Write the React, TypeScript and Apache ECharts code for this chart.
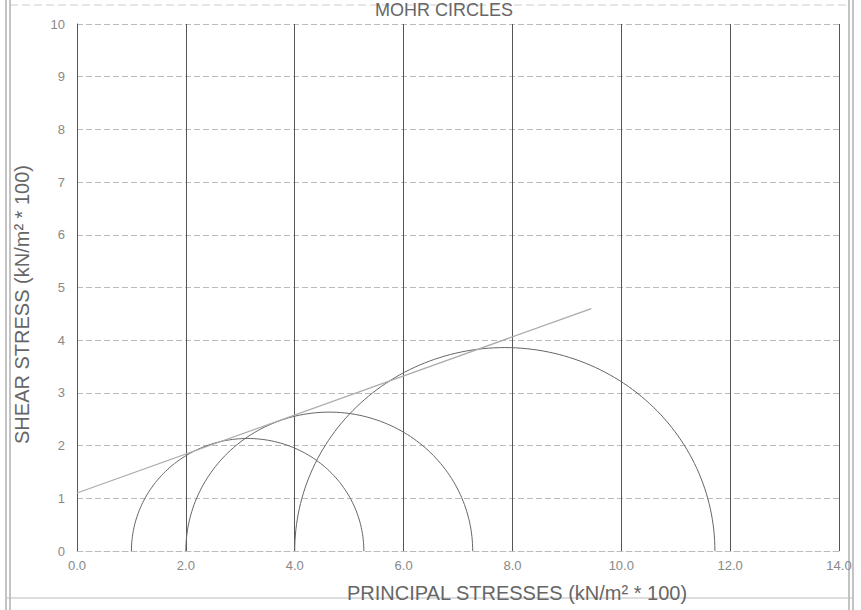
import React, { useEffect, useRef } from "react";
import * as echarts from "echarts";

// Mohr circles: minor (sigma3) and major (sigma1) principal stresses, kN/m² * 100
const sigma3 = [1.0, 2.0, 4.0];
const sigma1 = [5.27, 7.27, 11.72];
// Failure envelope end points
const envelopeX = [0, 9.45];
const envelopeY = [1.1, 4.6];
// Axes
const xTicks = [0, 2, 4, 6, 8, 10, 12, 14];
const yTicks = [0, 1, 2, 3, 4, 5, 6, 7, 8, 9, 10];

const FONT = "Liberation Sans, Arial, sans-serif";

export default function App() {
  const ref = useRef<HTMLDivElement>(null);
  useEffect(() => {
    if (!ref.current) return;
    const chart = echarts.init(ref.current, undefined, { renderer: "svg" });
    const circles = sigma3.map((s3, i) => [s3, sigma1[i]]);
    const envelope = envelopeX.map((x, i) => [x, envelopeY[i]]);
    chart.setOption({
      animation: false,
      backgroundColor: "#ffffff",
      title: {
        text: "MOHR CIRCLES",
        left: 444,
        textAlign: "center",
        top: 1,
        padding: 0,
        textStyle: { fontFamily: FONT, fontSize: 18, fontWeight: "normal", color: "#666" },
      },
      grid: { left: 77, right: 22, top: 24, bottom: 59 },
      xAxis: {
        type: "value",
        min: xTicks[0],
        max: xTicks[xTicks.length - 1],
        interval: 2,
        name: "PRINCIPAL STRESSES (kN/m² * 100)",
        nameLocation: "middle",
        nameGap: 32,
        nameTextStyle: {
          fontFamily: FONT,
          fontSize: 20,
          color: "#666",
          padding: [0, 0, 0, 118],
        },
        axisLine: { show: true, lineStyle: { color: "#bbb", type: [6, 3] } },
        axisTick: { show: false },
        axisLabel: {
          fontFamily: FONT,
          fontSize: 13,
          color: "#888",
          margin: 8,
          formatter: (v: number) => v.toFixed(1),
        },
        splitLine: { show: true, lineStyle: { color: "#555", width: 1 } },
      },
      yAxis: {
        type: "value",
        min: yTicks[0],
        max: yTicks[yTicks.length - 1],
        interval: 1,
        name: "SHEAR STRESS (kN/m² * 100)",
        nameLocation: "middle",
        nameGap: 45,
        nameRotate: 90,
        nameTextStyle: {
          fontFamily: FONT,
          fontSize: 20,
          color: "#666",
          padding: [0, 34, 0, 0],
        },
        axisLine: { show: true, lineStyle: { color: "#555", width: 1 } },
        axisTick: { show: false },
        axisLabel: { fontFamily: FONT, fontSize: 13, color: "#888", margin: 12 },
        splitLine: { show: true, lineStyle: { color: "#bbb", type: [6, 3], width: 1 } },
      },
      graphic: [
        { type: "line", shape: { x1: 6, y1: 0, x2: 6, y2: 610 }, style: { stroke: "#888", lineWidth: 1 } },
        { type: "line", shape: { x1: 10, y1: 0, x2: 10, y2: 610 }, style: { stroke: "#888", lineWidth: 1 } },
        { type: "line", shape: { x1: 849, y1: 0, x2: 849, y2: 610 }, style: { stroke: "#888", lineWidth: 1 } },
        { type: "line", shape: { x1: 853, y1: 0, x2: 853, y2: 610 }, style: { stroke: "#888", lineWidth: 1 } },
        { type: "line", shape: { x1: 10, y1: 5, x2: 849, y2: 5 }, style: { stroke: "#ccc", lineWidth: 1, lineDash: [8, 4] } },
        { type: "line", shape: { x1: 6, y1: 598, x2: 853, y2: 598 }, style: { stroke: "#bbb", lineWidth: 1 } },
      ],
      series: [
        {
          type: "custom",
          name: "Mohr circles",
          data: circles,
          renderItem: (params: any, api: any) => {
            const s3 = api.value(0);
            const s1 = api.value(1);
            const r = (s1 - s3) / 2;
            const p3 = api.coord([s3, 0]);
            const p1 = api.coord([s1, 0]);
            const rx = (p1[0] - p3[0]) / 2;
            const ry = api.size([0, r])[1];
            const cx = (p1[0] + p3[0]) / 2;
            const cy = p3[1];
            const pts: number[][] = [];
            const n = 120;
            for (let k = 0; k <= n; k++) {
              const a = Math.PI - (Math.PI * k) / n;
              pts.push([cx + rx * Math.cos(a), cy - ry * Math.sin(a)]);
            }
            return {
              type: "polyline",
              shape: { points: pts },
              style: { stroke: "#666", lineWidth: 1, fill: "none" },
            };
          },
          z: 3,
        },
        {
          type: "line",
          name: "Failure envelope",
          data: envelope,
          symbol: "none",
          lineStyle: { color: "#aaa", width: 1.2 },
          z: 4,
        },
      ],
    });
    return () => chart.dispose();
  }, []);
  return (
    <div
      ref={ref}
      style={{ position: "fixed", left: 0, top: 0, width: 861, height: 610, background: "#fff" }}
    />
  );
}
